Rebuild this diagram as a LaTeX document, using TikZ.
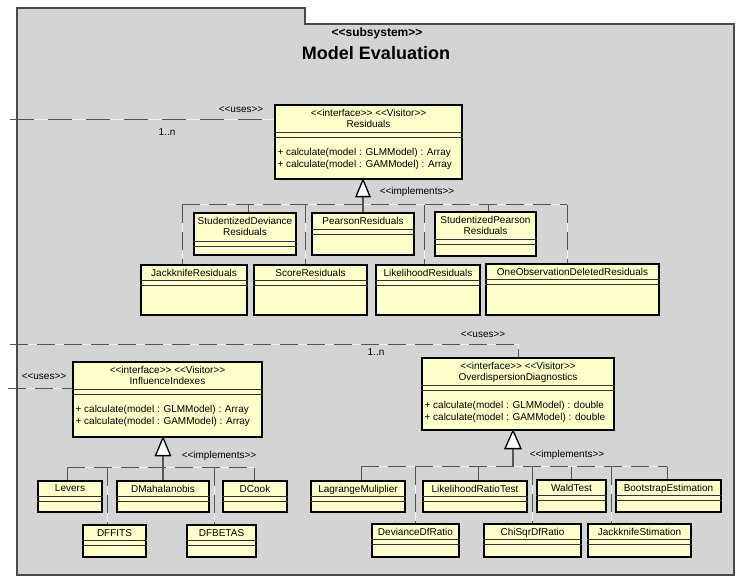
\documentclass[tikz,border=0pt]{standalone}
\usepackage{fontspec}
\setmainfont{Liberation Sans}[Ligatures=TeXOff]
\usetikzlibrary{positioning, fit, calc}
\definecolor{PkgFill}{HTML}{D4D4D4}
\definecolor{PkgLine}{HTML}{4A4A4A}
\definecolor{ClassFill}{HTML}{FFFFCC}
\definecolor{LinkGray}{HTML}{555555}
\definecolor{GapGray}{HTML}{F2F2F2}
\tikzset{
    % package and class boxes
    package/.style={
        draw=PkgLine,
        fill=PkgFill,
        line width=1.2pt
    },
    iface/.style={
        rectangle,
        draw=black,
        fill=ClassFill,
        line width=1.2pt,
        inner sep=0pt
    },
    leaf/.style={
        rectangle,
        draw=black,
        fill=ClassFill,
        line width=1.2pt,
        inner sep=0pt
    },
    clsname/.style={
        align=center,
        inner sep=0pt,
        font=\fontsize{10}{11.5}\selectfont
    },
    optext/.style={
        align=left,
        inner sep=0pt,
        font=\fontsize{10}{12}\selectfont
    },
    compart/.style={
        draw=black!80,
        line width=0.8pt
    },
    stereo/.style={
        inner sep=0pt,
        font=\fontsize{10}{12}\selectfont
    },
    % connectors
    dep/.style={
        draw=LinkGray,
        line width=1pt,
        dash pattern=on 18pt off 9pt,
        preaction={draw=GapGray, solid}
    },
    stem/.style={
        draw=LinkGray,
        line width=2pt
    },
    realize/.style={
        draw=black,
        fill=white,
        line width=1.3pt,
        line join=miter
    }
}

\begin{document}
\begin{tikzpicture}[x=1pt, y=-1pt]
    \useasboundingbox (0,0) rectangle (743,581);

    % Package
    \draw[package] (17,24) -- (17,8) -- (305,8) -- (305,24) -- (734,24)
        -- (734,575) -- (17,575) -- cycle;
    \node[inner sep=0pt, font=\fontsize{12}{14}\selectfont\bfseries] (pkg-st) at (377,33) {<<subsystem>>};
    \node[inner sep=0pt, font=\fontsize{18}{20}\selectfont\bfseries] (pkg-name) at (376,53) {Model Evaluation};

    % Interfaces
    \node[iface, fit={(275,105) (462,179)}] (res) {};
    \node[iface, fit={(73,362) (262,437)}] (infl) {};
    \node[iface, fit={(422,358) (614,430)}] (odd) {};
    \foreach \nm/\txt/\ret in {res/Residuals/Array, infl/InfluenceIndexes/Array, odd/OverdispersionDiagnostics/double} {
        \node[clsname, below=4.5pt of \nm.north] (\nm-name) {<<interface>> <<Visitor>>\\\txt};
        \draw[compart] ([yshift=-28]\nm.north west) -- ([yshift=-28]\nm.north east);
        \draw[compart] ([yshift=-33]\nm.north west) -- ([yshift=-33]\nm.north east);
        \node[optext, below right=43.5pt and 3pt of \nm.north west] (\nm-ops)
            {+ calculate(model : GLMModel) : \ret\\+ calculate(model : GAMModel) : \ret};
    }

    % Uses dependencies
    \coordinate (ruse) at (10,119);
    \coordinate (ouse) at (10,344);
    \coordinate (iuse) at (8,388);
    \draw[dep, dash pattern=on 24pt off 14pt] (ruse) -- (ruse -| res.west);
    \draw[dep] (ouse) -| (odd.north);
    \draw[dep] (iuse) -- (iuse -| infl.west);
    \node[stereo] (ruse-st) at (241,110) {<<uses>>};
    \node[stereo] (ruse-m) at (167,132) {1..n};
    \node[stereo] (ouse-st) at (483,335) {<<uses>>};
    \node[stereo] (ouse-m) at (376,352) {1..n};
    \node[stereo] (iuse-st) at (44,377) {<<uses>>};

    % Implementing classes
    \foreach \nm/\xa/\ya/\xb/\yb/\hn/\txt in {
        sdev/194/213/296/255/29/{StudentizedDeviance\\Residuals},
        pear/312/213/414/255/17/PearsonResiduals,
        spear/435/212/536/256/28/{StudentizedPearson\\Residuals},
        jack/141/265/247/315/16/JackknifeResiduals,
        score/254/265/367/315/16/ScoreResiduals,
        lik/376/265/480/315/16/LikelihoodResiduals,
        oneobs/486/264/659/315/16/OneObservationDeletedResiduals,
        levers/38/481/102/512/16/Levers,
        dmah/117/481/209/512/16/DMahalanobis,
        dcook/223/481/287/512/16/DCook,
        dffits/83/525/146/557/16/DFFITS,
        dfbetas/187/525/256/557/16/DFBETAS,
        lagr/311/481/405/512/16/LagrangeMuliplier,
        lrt/423/481/527/512/16/LikelihoodRatioTest,
        wald/537/480/606/512/16/WaldTest,
        boot/616/480/721/512/16/BootstrapEstimation,
        dev/372/524/459/557/16/DevianceDfRatio,
        chi/484/524/581/557/16/ChiSqrDfRatio,
        jstim/588/524/691/557/16/JackknifeStimation} {
        \node[leaf, fit={(\xa,\ya) (\xb,\yb)}] (\nm) {};
        \node[clsname, below=4.5pt of \nm.north] (\nm-name) {\txt};
        \draw[compart] ([yshift=-\hn]\nm.north west) -- ([yshift=-\hn]\nm.north east);
        \draw[compart] ([yshift=-\hn-5]\nm.north west) -- ([yshift=-\hn-5]\nm.north east);
    }

    % Realizations of Residuals
    \coordinate (rtip) at (pear.north |- res.south);
    \coordinate (rbus) at ([yshift=-25]rtip);
    \draw[dep] ([xshift=-12]jack.north |- rbus) -- ([xshift=-5.5]oneobs.north |- rbus);
    \foreach \nm/\dx in {sdev/3, spear/2.5, jack/-12, score/-5.5, lik/-4, oneobs/-5.5} {
        \draw[dep] ([xshift=\dx]\nm.north |- rbus) -- ([xshift=\dx]\nm.north);
    }
    \draw[stem] ([yshift=-17]rtip) -- (pear.north);
    \draw[realize] (rtip) -- ++(-7,17) -- ++(14,0) -- cycle;
    \node[stereo] (rimpl) at (417,192) {<<implements>>};

    % Realizations of InfluenceIndexes
    \coordinate (itip) at (dmah.north |- infl.south);
    \coordinate (ibus) at ([yshift=-30]itip);
    \draw[dep] ([xshift=-3]levers.north |- ibus) -- ([xshift=-1]dcook.north |- ibus);
    \foreach \nm/\dx in {levers/-3, dcook/-1, dffits/-7.5, dfbetas/-7.5} {
        \draw[dep] ([xshift=\dx]\nm.north |- ibus) -- ([xshift=\dx]\nm.north);
    }
    \draw[stem] ([yshift=-18]itip) -- (dmah.north);
    \draw[realize] (itip) -- ++(-7.5,18) -- ++(15,0) -- cycle;
    \node[stereo] (iimpl) at (219,456) {<<implements>>};

    % Realizations of OverdispersionDiagnostics
    \coordinate (otip) at ([xshift=-5]odd.south);
    \coordinate (obus) at ([yshift=-36]otip);
    \draw[dep] ([xshift=3]lagr.north |- obus) -- ([xshift=-1.5]boot.north |- obus);
    \foreach \nm/\dx in {lagr/3, lrt/3, wald/0, boot/-1.5, dev/0, chi/0, jstim/-28.5} {
        \draw[dep] ([xshift=\dx]\nm.north |- obus) -- ([xshift=\dx]\nm.north);
    }
    \draw[stem] ([yshift=-18]otip) -- (otip |- obus);
    \draw[realize] (otip) -- ++(-8,18) -- ++(16,0) -- cycle;
    \node[stereo] (oimpl) at (567,455) {<<implements>>};
\end{tikzpicture}
\end{document}
